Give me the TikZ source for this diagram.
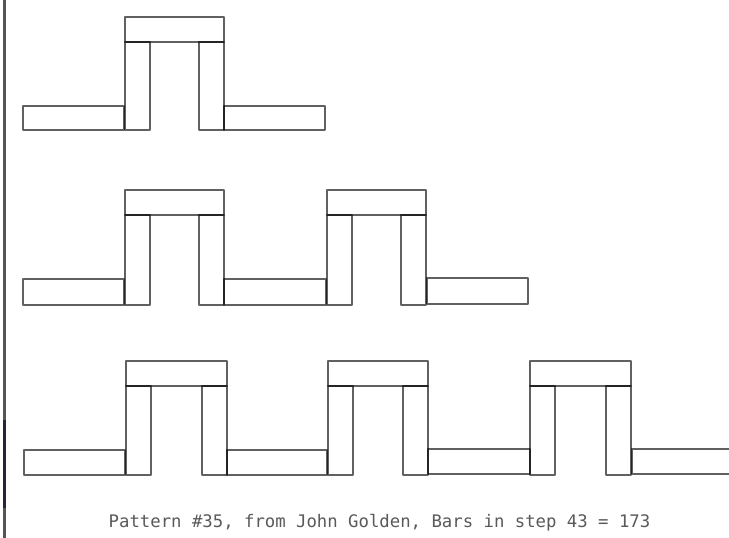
\documentclass[tikz,border=0pt]{standalone}
\usepackage{fontspec}
\newfontfamily\capmono{DejaVu Sans Mono}
\definecolor{captiongray}{HTML}{5A5A5A}
\definecolor{edgegray}{HTML}{555555}
\definecolor{edgepurple}{HTML}{2E2040}
\tikzset{
  piece/.style={draw=black, draw opacity=0.62, line width=1.4pt, line join=round},
  edge/.style={line width=3.2pt},
  caption/.style={font=\capmono\fontsize{17.3}{20}\selectfont, text=captiongray, inner sep=0pt}
}
\begin{document}
\begin{tikzpicture}[x=1pt,y=-1pt]
\useasboundingbox (0,0) rectangle (729,538);
\fill[white] (0,0) rectangle (729,538);
% left window edge
\draw[edge, edgegray] (4.2,0) -- (4.2,420);
\draw[edge, edgepurple] (4.2,420) -- (4.2,508);
\draw[edge, edgegray] (4.2,508) -- (4.2,538);
\begin{scope}
\clip (0,0) rectangle (729,538);
% ---------- row 1: top t=17, bottom b=130
\def\t{17}\def\b{130}
\draw[piece] (23,\b-24) rectangle (124,\b);
\draw[piece] (224,\b-24) rectangle (325,\b);
\foreach \xa/\xb in {125/224}{
  \draw[piece] (\xa,\t) rectangle (\xb,\t+25);
  \draw[piece] (\xa,\t+25) rectangle (\xa+25,\b);
  \draw[piece] (\xb-25,\t+25) rectangle (\xb,\b);
}
% ---------- row 2
\def\t{190}\def\b{305}
\draw[piece] (23,\b-26) rectangle (124,\b);
\draw[piece] (224,\b-26) rectangle (326,\b);
\draw[piece] (427,\b-27) rectangle (528,\b-1);
\foreach \xa/\xb in {125/224, 327/426}{
  \draw[piece] (\xa,\t) rectangle (\xb,\t+25);
  \draw[piece] (\xa,\t+25) rectangle (\xa+25,\b);
  \draw[piece] (\xb-25,\t+25) rectangle (\xb,\b);
}
% ---------- row 3
\def\t{361}\def\b{475}
\draw[piece] (24,\b-25) rectangle (125,\b);
\draw[piece] (227,\b-25) rectangle (327,\b);
\draw[piece] (428,\b-26) rectangle (530,\b-1);
\draw[piece] (632,\b-26) rectangle (740,\b-1);
\foreach \xa/\xb in {126/227, 328/428, 530/631}{
  \draw[piece] (\xa,\t) rectangle (\xb,\t+25);
  \draw[piece] (\xa,\t+25) rectangle (\xa+25,\b);
  \draw[piece] (\xb-25,\t+25) rectangle (\xb,\b);
}
\end{scope}
\node[caption, anchor=base] (cap) at (379.5,527) {Pattern \#35, from John Golden, Bars in step 43 = 173};
\end{tikzpicture}
\end{document}
